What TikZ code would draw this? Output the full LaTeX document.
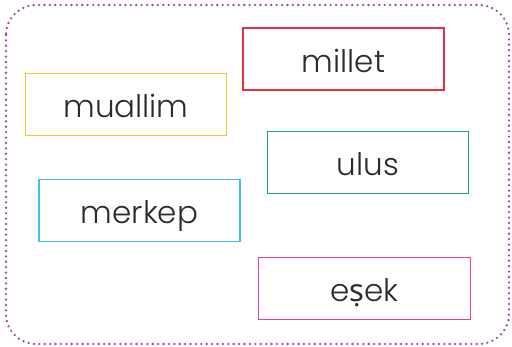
\documentclass[tikz,border=0pt]{standalone}
\usepackage{fontspec}
\setmainfont{Poppins}[UprightFont=* Light]
\newfontfamily\dotfont{Noto Sans}
\usetikzlibrary{positioning}

\definecolor{wordred}{HTML}{EC2F3A}
\definecolor{wordorange}{HTML}{F8C234}
\definecolor{wordgreen}{HTML}{1FA760}
\definecolor{wordcyan}{HTML}{3EBFEC}
\definecolor{wordpink}{HTML}{EA3F9B}
\definecolor{framepurple}{HTML}{A04BA6}
\definecolor{wordtext}{HTML}{2B2B2B}

\begin{document}
\begin{tikzpicture}[x=1pt, y=-1pt,
    wordbox/.style={draw, line width=1.6pt, minimum width=201pt, minimum height=62pt,
        inner sep=0pt, text height=29pt, text depth=2pt,
        font=\fontsize{31}{31}\selectfont, text=wordtext}]
    % sayfa sinirlari (512 x 347)
    \useasboundingbox (0,0) rectangle (512,347);

    % noktali dis cerceve
    \draw[framepurple, line width=2.6pt, line cap=round, dash pattern=on 0pt off 5.4pt,
        rounded corners=30pt] (6,5) rectangle (509,344);

    % kelime kutulari
    \node[wordbox, draw=wordred] (millet) at (343.5,59) {millet};
    \node[wordbox, draw=wordorange] (muallim) at (126,104.5) {muallim};
    \node[wordbox, draw=wordgreen] (ulus) at (368,162.5) {ulus};
    \node[wordbox, draw=wordcyan] (merkep) at (139.5,210.5) {merkep};
    \node[wordbox, draw=wordpink, minimum width=212pt] (esek) at (364.5,288.5) {e{\dotfont ṣ}ek};
\end{tikzpicture}
\end{document}
